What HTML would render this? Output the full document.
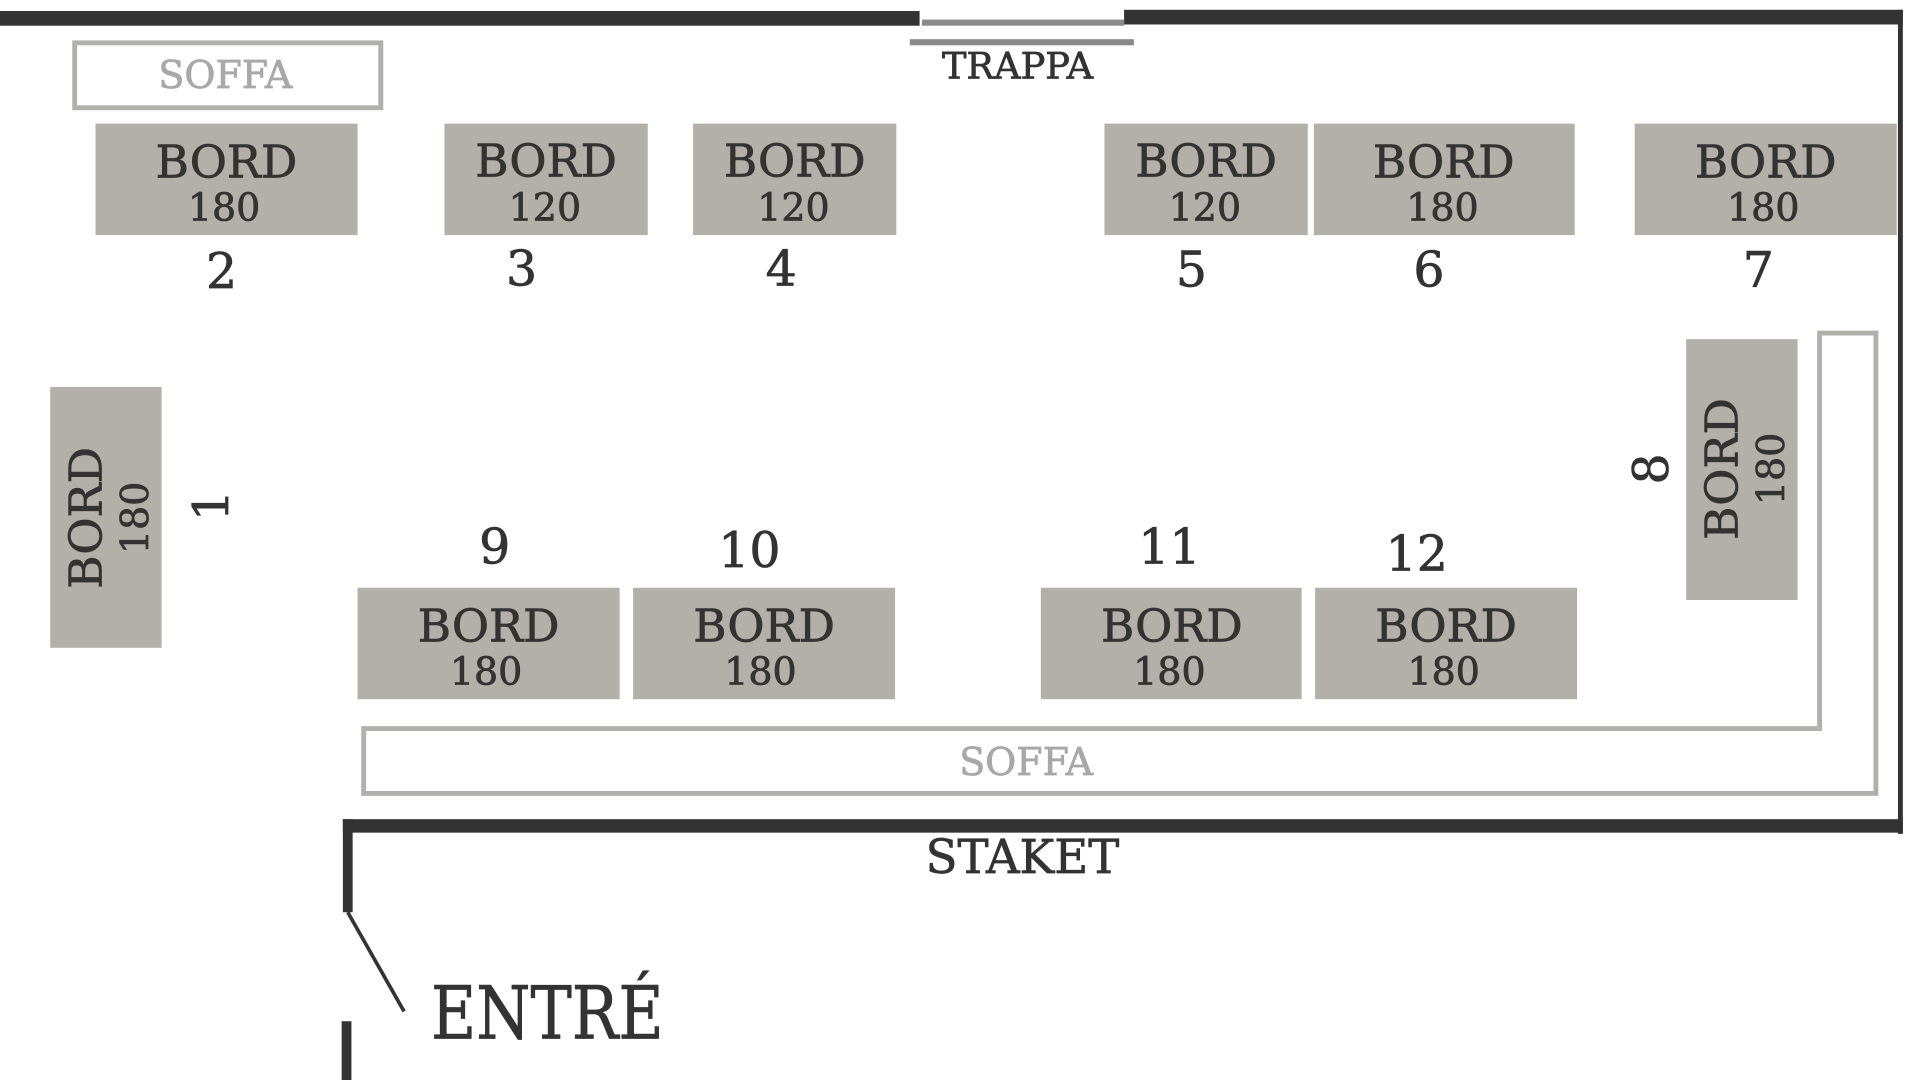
<!DOCTYPE html>
<html><head><meta charset="utf-8"><style>
html,body{margin:0;padding:0;background:#fff;width:1920px;height:1080px;overflow:hidden}
svg{display:block}
text{font-family:"DejaVu Serif","Liberation Serif",serif}
</style></head><body>
<svg width="1920" height="1080" viewBox="0 0 1568 882" preserveAspectRatio="none" xmlns="http://www.w3.org/2000/svg">
<g fill="#333">
<rect x="0" y="9" width="751" height="12"/>
<rect x="918" y="8" width="636" height="12"/>
<rect x="1550" y="8" width="4" height="673"/>
<rect x="280" y="669" width="1274" height="11"/>
<rect x="280" y="669" width="8" height="76"/>
<rect x="279" y="834" width="8" height="48"/>
</g>
<line x1="284" y1="745" x2="330" y2="826" stroke="#333" stroke-width="3"/>
<rect x="753" y="16" width="165" height="5" fill="#8a8a8a"/>
<rect x="743" y="32" width="183" height="5" fill="#8a8a8a"/>
<rect x="61" y="35" width="250" height="53" fill="none" stroke="#b0b0ad" stroke-width="4"/>
<path d="M297 595 H1486 V272 H1532 V648 H297 Z" fill="none" stroke="#b0b0ad" stroke-width="4"/>
<g fill="#b3afa9">
<rect x="78" y="101" width="214" height="91"/>
<rect x="363" y="101" width="166" height="91"/>
<rect x="566" y="101" width="166" height="91"/>
<rect x="902" y="101" width="166" height="91"/>
<rect x="1073" y="101" width="213" height="91"/>
<rect x="1335" y="101" width="214" height="91"/>
<rect x="41" y="316" width="91" height="213"/>
<rect x="1377" y="277" width="91" height="213"/>
<rect x="292" y="480" width="214" height="91"/>
<rect x="517" y="480" width="214" height="91"/>
<rect x="850" y="480" width="213" height="91"/>
<rect x="1074" y="480" width="214" height="91"/>
</g>
<g fill="#333" text-anchor="middle" stroke="#333" stroke-width="0.6">
<text x="184" y="72" font-size="31" fill="#a8a8a8" stroke="#a8a8a8">SOFFA</text>
<text x="838" y="633" font-size="31" fill="#a8a8a8" stroke="#a8a8a8">SOFFA</text>
<text x="831" y="64" font-size="30">TRAPPA</text>
<text x="835" y="713" font-size="38">STAKET</text>
<text x="352" y="848" font-size="60" text-anchor="start" textLength="190" lengthAdjust="spacingAndGlyphs">ENTRÉ</text>
<g font-size="37">
<text x="185" y="145">BORD</text><text x="446" y="144">BORD</text><text x="649" y="144">BORD</text>
<text x="985" y="144">BORD</text><text x="1179" y="145">BORD</text><text x="1442" y="145">BORD</text>
<text x="399" y="524">BORD</text><text x="624" y="524">BORD</text><text x="957" y="524">BORD</text><text x="1181" y="524">BORD</text>
</g>
<g font-size="31">
<text x="183" y="180">180</text><text x="445" y="180">120</text><text x="648" y="180">120</text>
<text x="984" y="180">120</text><text x="1178" y="180">180</text><text x="1440" y="180">180</text>
<text x="397" y="559">180</text><text x="621" y="559">180</text><text x="955" y="559">180</text><text x="1179" y="559">180</text>
</g>
<g font-size="40">
<text x="181" y="235">2</text><text x="426" y="233">3</text><text x="638" y="233">4</text>
<text x="973" y="234">5</text><text x="1167" y="234">6</text><text x="1436" y="234">7</text>
<text x="404" y="460">9</text><text x="612" y="463">10</text><text x="955" y="460">11</text><text x="1157" y="466">12</text>
</g>
<g transform="translate(85 423) rotate(-90)"><text x="0" y="-2" font-size="37">BORD</text><text x="0" y="36" font-size="31">180</text></g>
<g transform="translate(1421 383) rotate(-90)"><text x="0" y="-2" font-size="37">BORD</text><text x="0" y="36" font-size="31">180</text></g>
<text transform="translate(186 413) rotate(-90)" font-size="40">1</text>
<text transform="translate(1362 383) rotate(-90)" font-size="40">8</text>
</g>
</svg>
</body></html>
